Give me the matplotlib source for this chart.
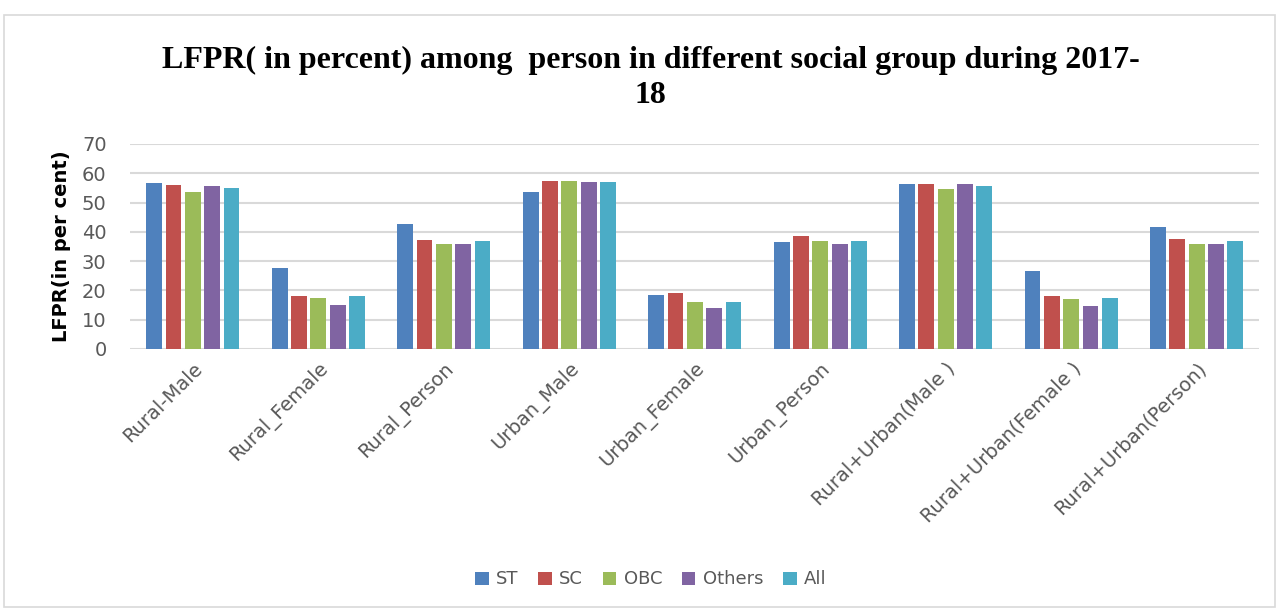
import numpy as np
import matplotlib.pyplot as plt
from matplotlib.patches import Rectangle

categories = ['Rural-Male', 'Rural_Female', 'Rural_Person', 'Urban_Male', 'Urban_Female',
              'Urban_Person', 'Rural+Urban(Male )', 'Rural+Urban(Female )', 'Rural+Urban(Person)']
groups = ['ST', 'SC', 'OBC', 'Others', 'All']

st = [56.6, 27.5, 42.5, 53.5, 18.4, 36.6, 56.4, 26.5, 41.7]
sc = [55.9, 18.0, 37.3, 57.3, 19.1, 38.5, 56.3, 18.1, 37.5]
obc = [53.5, 17.3, 35.9, 57.2, 16.0, 36.9, 54.5, 17.0, 36.0]
others = [55.5, 14.9, 35.8, 56.9, 14.1, 36.0, 56.3, 14.7, 35.8]
all_groups = [54.9, 18.1, 36.9, 56.9, 15.9, 36.8, 55.5, 17.3, 36.8]

colors = ['#4F81BD', '#C0504D', '#9BBB59', '#8064A2', '#4BACC6']

fig = plt.figure(figsize=(12.76, 6.10), dpi=100)
ax = fig.add_axes([0.102, 0.428, 0.885, 0.336])

x = np.arange(len(categories))
slot = 0.154
for i, (name, vals) in enumerate(zip(groups, [st, sc, obc, others, all_groups])):
    ax.bar(x + (i - 2) * slot, vals, width=slot * 0.82, color=colors[i],
           linewidth=0, label=name, zorder=3)

ax.set_xlim(-0.5, len(categories) - 0.5)
ax.set_ylim(0, 70)
ax.set_yticks(range(0, 71, 10))
ax.yaxis.grid(True, color='#D9D9D9', linewidth=1.5, zorder=0)
for s in ax.spines.values():
    s.set_visible(False)
ax.tick_params(axis='both', length=0, colors='#595959', labelsize=14)
ax.tick_params(axis='y', pad=17)
ax.set_xticks(x)
ax.set_xticklabels(categories, rotation=45, ha='right', va='top',
                   rotation_mode='anchor', fontsize=14, color='#595959')
ax.tick_params(axis='x', pad=7)

ax.set_ylabel('LFPR(in per cent)', fontsize=14, fontweight='bold', color='black', labelpad=8)

fig.text(0.51, 0.872, 'LFPR( in percent) among  person in different social group during 2017-\n18',
         ha='center', va='center', fontsize=23, fontweight='bold',
         family='Liberation Serif', linespacing=1.3)

fig.legend(loc='center', bbox_to_anchor=(0.51, 0.05), ncol=5, frameon=False,
           fontsize=13, handlelength=0.75, handleheight=0.75, handletextpad=0.4,
           columnspacing=1.1, labelcolor='#595959')

fig.patches.append(Rectangle((0.003, 0.005), 0.996, 0.97, transform=fig.transFigure,
                             fill=False, edgecolor='#D9D9D9', linewidth=1.2))

fig.savefig('out.png', dpi=100)
